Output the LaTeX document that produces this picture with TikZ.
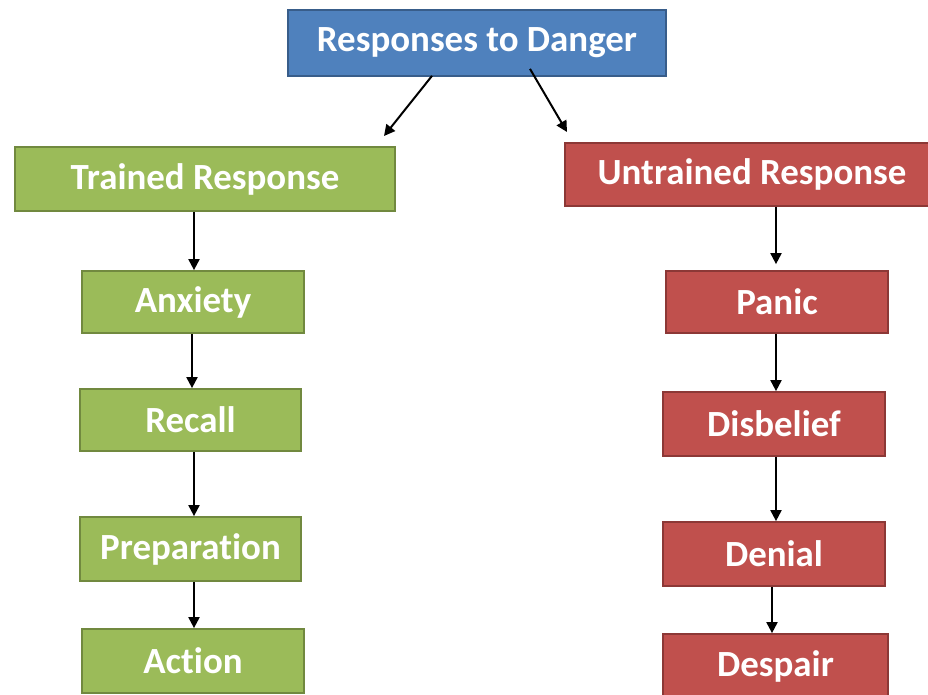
\documentclass[tikz,border=0pt]{standalone}
\usepackage{fontspec}
\setmainfont{Carlito}[Ligatures={NoCommon}]
\usetikzlibrary{arrows.meta,calc}
\definecolor{dangerfill}{HTML}{4F81BD}
\definecolor{dangerline}{HTML}{385D8A}
\definecolor{trainfill}{HTML}{9BBB59}
\definecolor{trainline}{HTML}{71893F}
\definecolor{untrainfill}{HTML}{C0504D}
\definecolor{untrainline}{HTML}{8C3836}

\begin{document}
\begin{tikzpicture}[x=0.03cm,y=-0.03cm,
	box/.style={draw,line width=1.5pt,text=white,inner sep=0pt,
		font=\fontsize{31.5}{36}\selectfont\bfseries},
	boxsize/.style 2 args={minimum width=#1*0.03cm,minimum height=#2*0.03cm},
	bluebox/.style={box,fill=dangerfill,draw=dangerline},
	greenbox/.style={box,fill=trainfill,draw=trainline},
	redbox/.style={box,fill=untrainfill,draw=untrainline},
	arr/.style={line width=1.7pt,-{Triangle[length=0.33cm,width=0.33cm]}}]
		\clip (0,0) rectangle (928,694);
		\fill[white] (0,0) rectangle (928,694);
		% top
		\node[bluebox,boxsize={378}{66}] (danger) at (477,43) {Responses to Danger};
		% trained side
		\node[greenbox,boxsize={380}{64}] (trained) at (205,179) {Trained Response};
		\node[greenbox,boxsize={222}{62}] (anxiety) at (193,302) {Anxiety};
		\node[greenbox,boxsize={221}{62}] (recall) at (190.5,420) {Recall};
		\node[greenbox,boxsize={221}{64}] (preparation) at (190.5,549) {Preparation};
		\node[greenbox,boxsize={222}{64}] (action) at (193,661) {Action};
		% untrained side
		\node[redbox,boxsize={374}{63}] (untrained) at (752,174.5) {Untrained Response};
		\node[redbox,boxsize={222}{62}] (panic) at (777,302) {Panic};
		\node[redbox,boxsize={222}{64}] (disbelief) at (774,424) {Disbelief};
		\node[redbox,boxsize={222}{64}] (denial) at (774,554) {Denial};
		\node[redbox,boxsize={225}{64}] (despair) at (775.5,666) {Despair};
		% arrows
		\coordinate (lefttip) at (384,136);
		\coordinate (righttip) at (567,132);
		\draw[arr] ($(danger.south)+(-45,-1)$) -- (lefttip);
		\draw[arr] ($(danger.south)+(53,-8)$) -- (righttip);
		\draw[arr] (trained.south -| 194,0) -- (anxiety.north -| 194,0);
		\draw[arr] (anxiety.south -| 192,0) -- (recall.north -| 192,0);
		\draw[arr] (recall.south -| 194,0) -- (preparation.north -| 194,0);
		\draw[arr] (preparation.south -| 194,0) -- (action.north -| 194,0);
		\draw[arr,shorten >=0.18cm] (untrained.south -| 776,0) -- (panic.north -| 776,0);
		\draw[arr] (panic.south -| 776,0) -- (disbelief.north -| 776,0);
		\draw[arr] (disbelief.south -| 776,0) -- (denial.north -| 776,0);
		\draw[arr] (denial.south -| 772,0) -- (despair.north -| 772,0);
	\end{tikzpicture}
\end{document}
